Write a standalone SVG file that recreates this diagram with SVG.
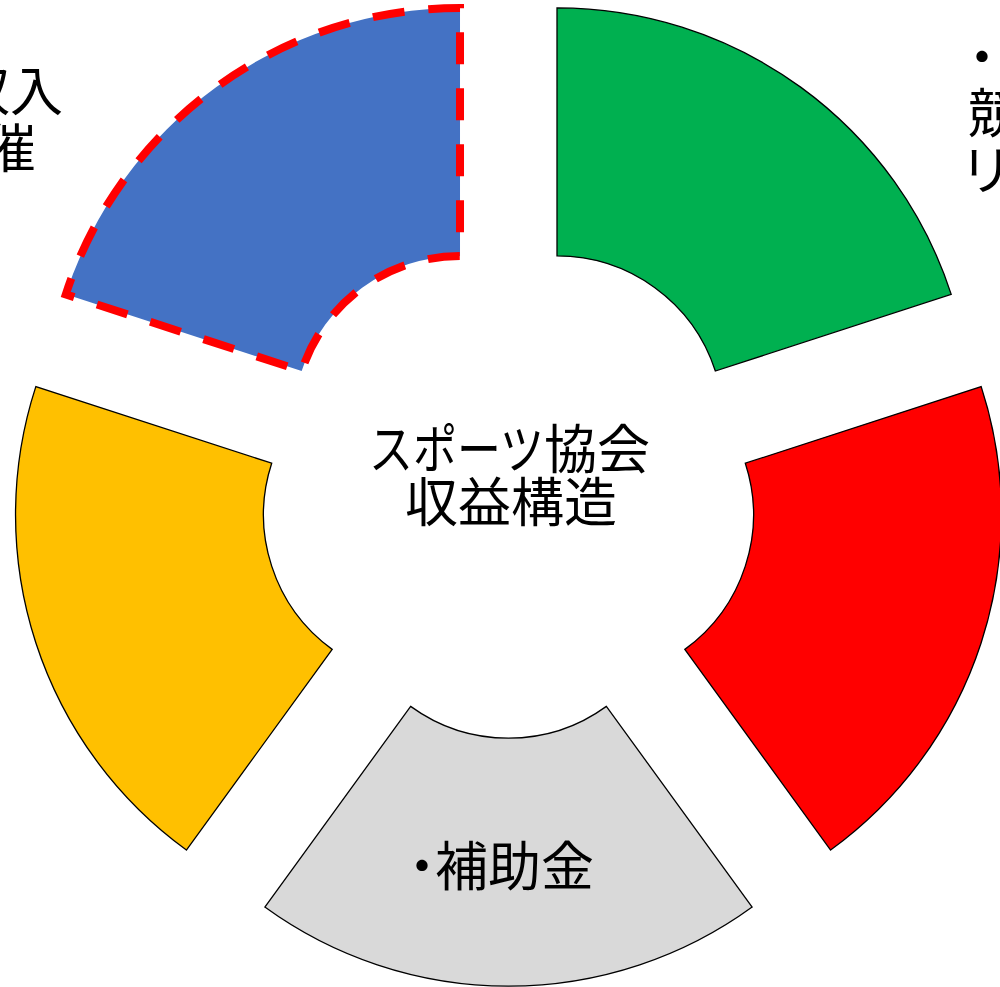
<svg xmlns="http://www.w3.org/2000/svg" width="1000" height="987" viewBox="0 0 1000 987">
<style>
.seg{stroke:#000;stroke-width:1.3;stroke-linejoin:miter}
.t{font-family:"Noto Sans CJK JP","Noto Sans CJK SC",sans-serif;font-size:53px;fill:#000}
</style>
<rect width="1000" height="987" fill="#fff"/>
<g id="connectors"></g>
<g id="seg-green">
<path class="seg" fill="#00B050" d="M557,7.96 A414.5,414.5 0 0 1 951.22,294.37 L715.35,371.01 A166.5,166.5 0 0 0 557,255.96 Z"/>
</g>
<g id="seg-red">
<path class="seg" fill="#FF0000" d="M981.18,386.60 A414.5,414.5 0 0 1 830.60,850.03 L684.83,649.39 A166.5,166.5 0 0 0 745.31,463.24 Z"/>
</g>
<g id="seg-gray">
<path class="seg" fill="#D9D9D9" d="M752.14,907.04 A414.5,414.5 0 0 1 264.86,907.04 L410.63,706.40 A166.5,166.5 0 0 0 606.37,706.40 Z"/>
<text class="t" x="395.5" y="886">・<tspan dx="-13.5">補助金</tspan></text>
</g>
<g id="seg-yellow">
<path class="seg" fill="#FFC000" d="M186.40,850.03 A414.5,414.5 0 0 1 35.82,386.60 L271.69,463.24 A166.5,166.5 0 0 0 332.17,649.39 Z"/>
</g>
<g id="seg-blue">
<path fill="#4472C4" stroke="#FF0000" stroke-width="8" stroke-dasharray="32 24" stroke-dashoffset="15" stroke-linejoin="miter" d="M65.79,294.37 A414.5,414.5 0 0 1 460.01,7.96 L460.01,255.96 A166.5,166.5 0 0 0 301.66,371.01 Z"/>
</g>
<g id="center">
<text class="t" y="469"><tspan x="369" textLength="175" lengthAdjust="spacingAndGlyphs">スポーツ</tspan><tspan x="544">協会</tspan></text>
<text class="t" x="511" y="522" text-anchor="middle">収益構造</text>
</g>
<g id="label-left">
<text class="t"><tspan x="-43" y="111">収入</tspan><tspan x="-17" y="168">催</tspan></text>
</g>
<g id="label-right">
<text class="t"><tspan x="955.5" y="77">・</tspan><tspan x="968" y="133">競</tspan><tspan x="960" y="190">リ</tspan></text>
</g>
</svg>
